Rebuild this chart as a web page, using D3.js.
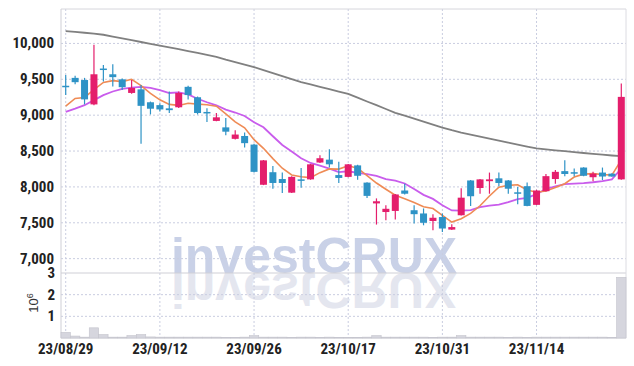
<!DOCTYPE html>
<html><head><meta charset="utf-8">
<script src="https://cdn.jsdelivr.net/npm/d3@7"></script>
<style>
html,body{margin:0;padding:0;background:#fff;}
svg{display:block;}
.lbl{font-family:"Liberation Sans Narrow","Arial Narrow","Roboto Condensed",sans-serif;font-weight:bold;font-size:15px;fill:#222;}
</style></head>
<body>
<svg id="c" width="634" height="366"></svg>
<script>
const dates = ["23/08/29","23/08/30","23/08/31","23/09/01","23/09/04","23/09/05","23/09/06","23/09/07","23/09/08","23/09/11",
"23/09/12","23/09/13","23/09/14","23/09/15","23/09/18","23/09/19","23/09/20","23/09/21","23/09/22","23/09/25",
"23/09/26","23/09/27","23/10/04","23/10/05","23/10/06","23/10/10","23/10/11","23/10/12","23/10/13","23/10/16",
"23/10/17","23/10/18","23/10/19","23/10/20","23/10/23","23/10/24","23/10/25","23/10/26","23/10/27","23/10/30",
"23/10/31","23/11/01","23/11/02","23/11/03","23/11/06","23/11/07","23/11/08","23/11/09","23/11/10","23/11/13",
"23/11/14","23/11/15","23/11/16","23/11/17","23/11/20","23/11/21","23/11/22","23/11/23","23/11/24","23/11/27"];
const open  = [9410,9520,9490,9150,9650,9570,9500,9310,9360,9180, 9140,9095,9110,9395,9250,9045,8920,8830,8670,8710,
               8590,8030,8205,8110,7920,8105,8105,8340,8380,8165, 8140,8300,8060,7770,7650,7665,7950,7675,7630,7525,
               7580,7405,7605,8090,7985,8080,8120,8090,7925,8010, 7750,7940,8110,8220,8205,8270,8135,8200,8185,8105];
const high  = [9560,9550,9520,9980,9700,9710,9510,9490,9420,9190, 9165,9330,9330,9410,9260,9095,9030,8960,8790,8760,
               8600,8375,8290,8200,8150,8265,8320,8440,8525,8350, 8320,8310,8065,7840,7745,7900,8045,7745,7700,7620,
               7630,7480,7980,8095,8110,8200,8200,8095,8000,8060, 7960,8180,8235,8370,8255,8275,8210,8270,8190,9440];
const low   = [9280,9430,9150,9140,9470,9400,9350,9300,8600,9010, 9050,9030,9100,9220,9010,8905,8915,8720,8660,8550,
               8200,8025,7975,7915,7915,7990,8100,8335,8270,8055, 8135,8100,7845,7475,7535,7545,7895,7490,7465,7395,
               7370,7400,7600,7735,7905,7905,8010,7905,7760,7730, 7745,7935,8045,8150,8150,8150,8080,8095,8140,8100];
const close = [9400,9460,9220,9570,9630,9530,9390,9380,9130,9090, 9080,9070,9310,9280,9030,9035,8970,8770,8730,8610,
               8210,8370,8055,8055,8140,8085,8315,8400,8315,8125, 8315,8155,7875,7800,7695,7895,7905,7620,7500,7570,
               7420,7440,7850,7870,8105,8105,8055,7975,7910,7735, 7950,8150,8210,8180,8195,8155,8185,8145,8145,9255];
const volume = [260000,90000,40000,470000,160000,40000,40000,110000,160000,50000, 40000,40000,40000,40000,40000,40000,40000,20000,20000,40000,
                110000,40000,40000,40000,20000,40000,40000,20000,40000,20000, 20000,20000,40000,110000,40000,40000,40000,40000,40000,20000,
                40000,40000,110000,40000,40000,40000,40000,20000,40000,20000, 40000,40000,40000,40000,40000,40000,40000,40000,20000,2800000];
const ma5 = [9125,9233,9247,9355,9456,9482,9468,9500,9412,9304, 9214,9150,9136,9166,9154,9145,9125,9017,8907,8823,
             8658,8538,8395,8260,8166,8141,8130,8199,8251,8248, 8294,8262,8157,8054,7968,7884,7834,7783,7723,7698,
             7603,7510,7556,7630,7737,7874,7997,8022,8030,7956, 7925,7944,7991,8045,8137,8178,8185,8172,8165,8377];
const ma10 = [9046,9090,9139,9210,9280,9330,9368,9385,9395,9380, 9348,9309,9318,9289,9229,9180,9138,9077,9037,8989,
              8902,8832,8706,8584,8495,8400,8334,8297,8256,8207, 8218,8196,8178,8153,8108,8089,8048,7970,7889,7833,
              7744,7672,7670,7677,7718,7739,7754,7789,7830,7847, 7900,7971,8007,8038,8047,8052,8065,8082,8105,8257];
const maLong = [10172,10160,10149,10137,10121,10096,10071,10046,10020,9994, 9969,9944,9920,9894,9867,9841,9814,9774,9739,9704,
                9669,9628,9586,9544,9502,9460,9428,9395,9362,9329, 9297,9244,9191,9139,9086,9033,8993,8951,8909,8867,
                8828,8790,8757,8728,8700,8672,8644,8618,8590,8563, 8537,8523,8510,8498,8485,8473,8461,8450,8438,8428];
const priceTicks = [7000,7500,8000,8500,9000,9500,10000];
const volTicks = [1000000,2000000,3000000];
const tickEvery = 10;

const svg = d3.select("#c");
const L = 61, R = 626, T = 9, MB = 273, VB = 338;
const x = d3.scaleBand().domain(d3.range(dates.length)).range([L, R]).padding(0);
const cx = i => x(i) + x.bandwidth()/2;
const y = d3.scaleLinear().domain([6800, 10480]).range([MB, T]);
const yv = d3.scaleLinear().domain([0, 3000000]).range([VB, MB]);

const gridC = "#c9cde0";
// watermark
const wm = svg.append("g");
wm.append("text").attr("x", 314).attr("y", MB).attr("text-anchor","middle")
  .style("font-family","'Liberation Sans',Arial,sans-serif").style("font-weight","bold").style("font-size","50px")
  .style("fill","#c9d1e7").text("investCRUX");
wm.append("text").attr("x", 314).attr("y", -MB).attr("text-anchor","middle").attr("transform","scale(1,-1)")
  .style("font-family","'Liberation Sans',Arial,sans-serif").style("font-weight","bold").style("font-size","50px")
  .style("fill","#e4e6ef").text("investCRUX");

// grids
const g = svg.append("g");
priceTicks.forEach(v => g.append("line").attr("x1",L).attr("x2",R).attr("y1",y(v)).attr("y2",y(v))
  .attr("stroke",gridC).attr("stroke-dasharray","2,2"));
volTicks.slice(0,2).forEach(v => g.append("line").attr("x1",L).attr("x2",R).attr("y1",yv(v)).attr("y2",yv(v))
  .attr("stroke",gridC).attr("stroke-dasharray","2,2"));
const tickIdx = d3.range(0, dates.length, tickEvery);
tickIdx.forEach(i => g.append("line").attr("x1",cx(i)).attr("x2",cx(i)).attr("y1",T).attr("y2",VB)
  .attr("stroke",gridC).attr("stroke-dasharray","2,2"));

// frame
svg.append("line").attr("x1",L).attr("x2",R).attr("y1",T).attr("y2",T).attr("stroke","#d6d6dc");
svg.append("line").attr("x1",L).attr("x2",R).attr("y1",MB).attr("y2",MB).attr("stroke","#cfcfd6");
svg.append("line").attr("x1",L).attr("x2",R).attr("y1",VB).attr("y2",VB).attr("stroke","#cfcfd6");
svg.append("line").attr("x1",L).attr("x2",L).attr("y1",T).attr("y2",VB).attr("stroke","#cfcfd6");
svg.append("line").attr("x1",R).attr("x2",R).attr("y1",T).attr("y2",VB).attr("stroke","#dcdce2");

// volume bars
svg.append("g").selectAll("rect").data(volume).join("rect")
  .attr("x",(d,i)=>x(i)).attr("width",x.bandwidth())
  .attr("y",d=>yv(d)).attr("height",d=>VB-yv(d))
  .attr("fill","#d6d6de").attr("stroke","#c4c4cc").attr("stroke-width",0.6);

// MA lines
const line = d3.line().x((d,i)=>cx(i)).y(d=>y(d)).curve(d3.curveLinear);
svg.append("path").datum(maLong).attr("d",line).attr("fill","none").attr("stroke","#808080").attr("stroke-width",1.8);
svg.append("path").datum(ma10).attr("d",line).attr("fill","none").attr("stroke","#c95cec").attr("stroke-width",1.8);
svg.append("path").datum(ma5).attr("d",line).attr("fill","none").attr("stroke","#ef8b55").attr("stroke-width",1.6);

// candles
const up = "#e41e6c", dn = "#2e93c6";
const cg = svg.append("g");
dates.forEach((d,i) => {
  const col = close[i] >= open[i] ? up : dn;
  cg.append("line").attr("x1",cx(i)).attr("x2",cx(i)).attr("y1",y(high[i])).attr("y2",y(low[i]))
    .attr("stroke",col).attr("stroke-width",1.2);
  const top = y(Math.max(open[i],close[i])), bot = y(Math.min(open[i],close[i]));
  cg.append("rect").attr("x",cx(i)-3.5).attr("width",7).attr("y",top).attr("height",Math.max(1.5,bot-top))
    .attr("fill",col);
});

// axis labels
const fmt = d3.format(",");
priceTicks.forEach(v => svg.append("text").attr("class","lbl").attr("x",54).attr("y",y(v)+5)
  .attr("text-anchor","end").text(fmt(v)));
volTicks.forEach(v => svg.append("text").attr("class","lbl").attr("x",55).attr("y",yv(v)+5)
  .attr("text-anchor","end").text(v/1e6));
tickIdx.forEach(i => svg.append("text").attr("class","lbl").attr("x",cx(i)).attr("y",354)
  .attr("text-anchor","middle").text(dates[i]));
const yl = svg.append("text").attr("transform","translate(38,303) rotate(-90)")
  .style("font-family","'Liberation Sans',Arial,sans-serif").style("font-size","13px").style("fill","#333")
  .attr("text-anchor","middle");
yl.append("tspan").text("10");
yl.append("tspan").attr("dy",-5).style("font-size","9px").text("6");
</script>
</body></html>
